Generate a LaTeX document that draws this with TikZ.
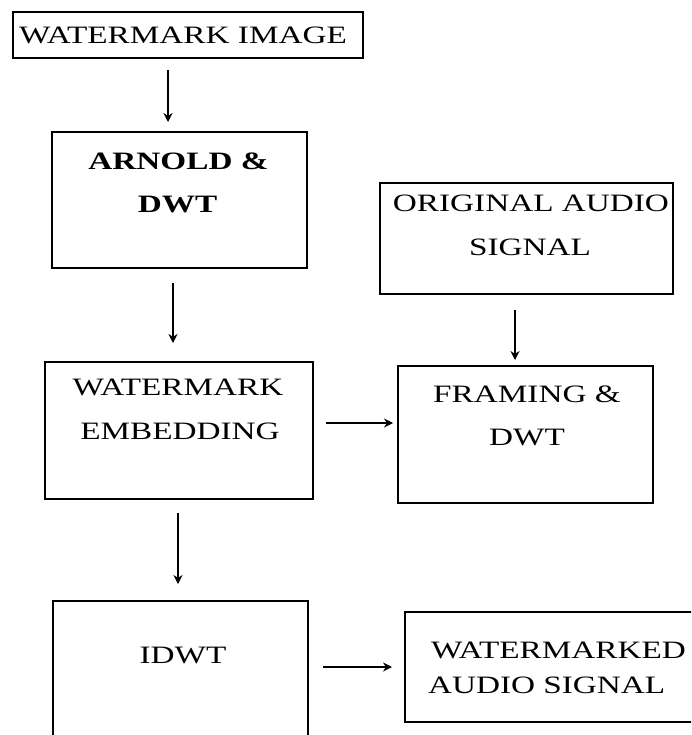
\documentclass[tikz,border=0pt]{standalone}
\usepackage{fontspec}
\setmainfont[FakeStretch=1.33]{Liberation Serif}
\usetikzlibrary{arrows.meta}
\tikzset{
  boxnode/.style={draw=black, line width=1.3pt, anchor=north west, inner sep=0pt, outer sep=0pt},
  lbl/.style={inner sep=0pt, outer sep=0pt, font=\fontsize{25}{29}\selectfont},
  lbll/.style={lbl, anchor=west},
  arr/.style={draw=black, line width=1.1pt, -{Stealth[length=9pt,width=9pt,inset=3pt]}}
}
\begin{document}
\begin{tikzpicture}[x=1pt,y=-1pt]
\useasboundingbox (0,0) rectangle (691,735);
\clip (0,0) rectangle (691,735);
% boxes
\node[boxnode, minimum width=350pt, minimum height=46pt] (b1) at (13,12) {};
\node[boxnode, minimum width=255pt, minimum height=136pt] (b2) at (52,132) {};
\node[boxnode, minimum width=293pt, minimum height=111pt] (b3) at (380,183) {};
\node[boxnode, minimum width=268pt, minimum height=137pt] (b4) at (45,362) {};
\node[boxnode, minimum width=255pt, minimum height=137pt] (b5) at (398,366) {};
\node[boxnode, minimum width=255pt, minimum height=160pt] (b6) at (53,601) {};
\node[boxnode, minimum width=315pt, minimum height=110pt] (b7) at (405,612) {};
% labels
\node[lbl] (t1) at (183,35) {WATERMARK IMAGE};
\node[lbl] (t2a) at (178.5,161) {\bfseries ARNOLD \&};
\node[lbl] (t2b) at (177.5,205) {\bfseries DWT};
\node[lbl] (t3a) at (531,203) {ORIGINAL AUDIO};
\node[lbl] (t3b) at (530,247) {SIGNAL};
\node[lbl] (t4a) at (178,387) {WATERMARK};
\node[lbl] (t4b) at (180,431) {EMBEDDING};
\node[lbl] (t5a) at (527,394) {FRAMING \&};
\node[lbl] (t5b) at (527,438) {DWT};
\node[lbl] (t6) at (183,655) {IDWT};
\node[lbll] (t7a) at (431,650) {WATERMARKED};
\node[lbll] (t7b) at (428,685) {AUDIO SIGNAL};
% arrow end points
\coordinate (a1s) at (168,70);  \coordinate (a1e) at (168,122);
\coordinate (a2s) at (173,283); \coordinate (a2e) at (173,343);
\coordinate (a3s) at (515,310); \coordinate (a3e) at (515,360);
\coordinate (a4s) at (326,423); \coordinate (a4e) at (393,423);
\coordinate (a5s) at (178,513); \coordinate (a5e) at (178,584);
\coordinate (a6s) at (323,667); \coordinate (a6e) at (392,667);
\draw[arr] (a1s) -- (a1e);
\draw[arr] (a2s) -- (a2e);
\draw[arr] (a3s) -- (a3e);
\draw[arr] (a4s) -- (a4e);
\draw[arr] (a5s) -- (a5e);
\draw[arr] (a6s) -- (a6e);
\end{tikzpicture}
\end{document}
